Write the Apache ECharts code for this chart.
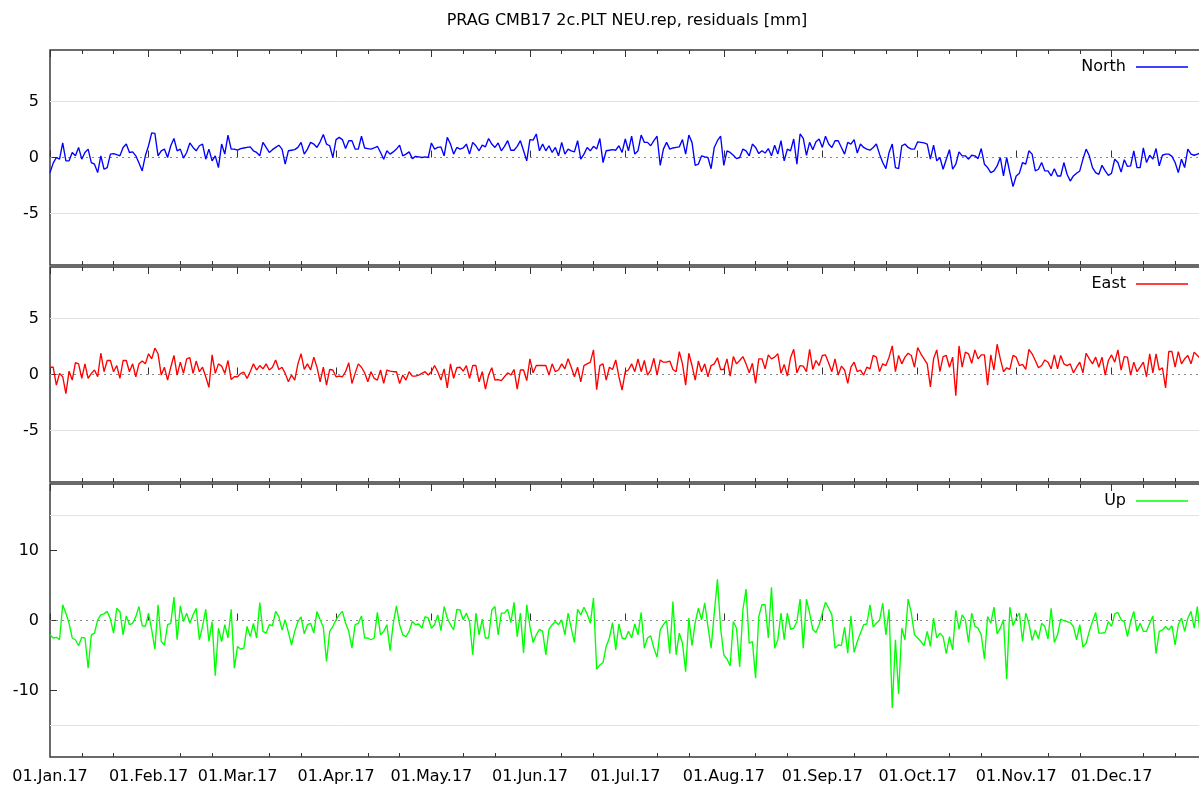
<!DOCTYPE html>
<html><head><meta charset="utf-8">
<script src="https://cdn.jsdelivr.net/npm/echarts@6/dist/echarts.min.js"></script>
<style>html,body{margin:0;padding:0;background:#fff}#c{width:1199px;height:786px}</style>
</head><body><div id="c"></div>
<script>
const titleText = 'PRAG CMB17 2c.PLT NEU.rep, residuals [mm]';
const seriesNames = ['North', 'East', 'Up'];
const seriesColors = ['#0000ff', '#ff0000', '#00ff00'];
const xTickLabels = ['01.Jan.17','01.Feb.17','01.Mar.17','01.Apr.17','01.May.17','01.Jun.17','01.Jul.17','01.Aug.17','01.Sep.17','01.Oct.17','01.Nov.17','01.Dec.17'];
const monthStartDays = [0,31,59,90,120,151,181,212,243,273,304,334];
const yTicksNE = [-5, 0, 5];
const yTicksUp = [-10, 0, 10];

// daily residuals [mm], day 0 = 01.Jan.17
const north = [
-1.35,-0.5,0,-0.15,1.3,-0.3,-0.3,0.45,0.15,0.9,
-0.15,0.45,0.75,-0.45,-0.6,-1.35,0.15,-1.05,-0.9,0.3,
0.35,0.25,0.15,0.9,1.2,0.45,0.5,0.15,-0.5,-1.2,
0.15,1.05,2.2,2.15,0.15,0.6,0.75,0,1.05,1.7,
0.6,0.75,-0.05,0.45,1.3,0.9,0.6,1.05,1.2,-0.15,
0.75,-0.3,0.15,-0.9,1.2,0.3,2.0,0.75,0.75,0.65,
0.8,0.85,0.9,0.95,0.6,0.45,0.15,1.35,0.9,0.45,
0.7,0.9,1.1,0.75,-0.6,0.6,0.65,0.7,0.9,1.35,
0.3,0.75,1.35,1.2,0.9,1.4,2.05,1.2,1.05,0,
1.6,1.8,1.6,0.8,1.5,1.5,0.75,0.75,1.9,0.85,
0.8,0.75,0.85,1.0,0.45,-0.15,0.6,0.3,0.5,0.75,
1.1,0.15,0.3,0.5,-0.1,0.1,0.05,0,0.05,0,
1.3,0.75,0.9,0.95,0.15,1.8,1.2,0.3,0.9,0.75,
0.85,1.2,0.3,1.35,1.05,0.6,1.1,0.95,1.7,1.2,
0.9,1.3,0.6,1.0,1.5,0.65,0.65,1.0,1.5,0.6,
-0.3,1.6,1.55,2.1,0.6,1.2,0.6,1.05,0.45,0.9,
0.15,1.35,0.3,0.75,0.6,0.5,1.5,-0.15,0.3,0.9,
0.6,1.0,0.75,1.7,-0.45,0.6,0.65,0.7,0.65,1.05,
0.45,1.65,0.6,1.9,0.3,0.6,2.0,1.35,1.35,1.05,
1.5,1.9,-0.7,0.75,1.35,0.75,0.85,0.9,0.95,1.6,
0.3,2.0,1.35,-0.7,-0.6,0.15,0.05,0,-1.0,0.9,
1.5,1.9,-0.7,0.6,0.45,0.2,-0.1,0,0.75,0.6,
0.15,1.2,0.9,0.35,0.6,0.4,0.8,0.15,1.1,0.3,
1.5,-0.3,0.75,0.6,1.65,-0.6,2.1,1.7,0.2,1.35,
0.7,1.4,1.65,0.9,1.9,1.2,0.9,1.5,1.5,0.9,
0.3,1.35,1.2,1.6,0.4,1.2,0.9,0.75,0.65,0.9,
1.2,0.3,-0.45,-1.0,0.45,1.2,-0.9,-1.0,1.05,1.2,
0.9,0.75,0.75,1.4,1.35,1.3,1.2,-0.15,1.1,-0.3,
0,-1.05,-0.15,0.7,-1.05,-0.6,0.5,0.15,0.15,-0.15,
0.2,0.15,-0.1,0.8,-0.6,-0.9,-1.35,-1.2,-0.75,0,
-1.65,0,-1.35,-2.6,-1.65,-1.4,-0.45,-0.6,0.6,0.3,
-1.2,-1.05,-0.45,-1.2,-1.2,-1.65,-1.0,-1.65,-1.65,-0.45,
-1.5,-2.1,-1.65,-1.4,-1.2,-0.15,0.75,0.15,-0.9,-1.35,
-1.5,-0.7,-1.2,-1.6,-1.4,-0.15,-0.45,-1.3,-0.2,-0.8,
-0.75,0.6,-0.9,-0.9,0.85,-0.45,0.2,-0.15,0.8,-0.75,
0.2,0.3,0.3,0.1,-0.45,-1.35,-0.15,-0.9,0.75,0.3,
0.2,0.3,0.4
];
const east = [
0.65,0.65,-0.95,0.1,-0.2,-1.7,0.3,-0.5,1.05,0.95,
-0.35,0.95,-0.35,0.1,0.4,-0.2,1.9,0.25,1.25,1.25,
0.25,0.8,-0.35,1.25,1.25,0.25,0.95,-0.2,0.95,1.2,
0.95,1.85,1.4,2.35,1.85,-0.05,0.65,-0.5,0.65,1.7,
-0.05,1.1,0.1,1.4,1.5,0.1,1.2,0.25,0.65,-0.2,
-1.15,1.75,0.1,0.95,0.75,0.1,1.25,-0.45,-0.2,-0.2,
0.1,0.2,-0.35,0.25,0.95,0.4,0.8,0.5,0.95,0.4,
0.65,1.3,0.45,0.65,0.1,-0.65,-0.05,-0.5,0.95,1.85,
0.45,0.95,0.4,1.55,0.65,-0.65,0.65,-0.95,0.45,0.4,
-0.2,-0.15,-0.2,0.25,1.05,-0.8,0.1,0.95,0.65,0.15,
-0.65,0.25,-0.35,-0.5,0.4,-0.8,0.4,0.3,0.25,0.25,
-0.8,-0.05,-0.5,0.25,-0.15,-0.15,-0.05,0.1,0.25,-0.05,
0.25,0.8,0.25,-0.5,0.5,-1.2,0.95,-0.35,0.6,0.65,
0.3,0.8,-0.35,0.8,0.8,-0.65,0.25,-1.3,-0.05,0.6,
-0.5,-0.45,-0.55,-0.2,0.15,-0.05,0.45,-1.3,0.4,0.4,
-0.55,1.4,0.15,0.8,0.8,0.8,0.8,-0.05,0.95,0.25,
0.4,0.95,0.5,1.4,0.65,-0.2,0.65,-0.65,0.8,0.95,
1.1,2.2,-1.35,0.8,0.95,-0.5,0.65,0.45,1.3,-0.2,
-1.4,0.25,0.4,0.95,0.25,1.4,0.25,1.25,-0.05,0.4,
1.45,-0.05,1.3,1.1,1.1,1.2,0.45,0.25,2.05,0.95,
-0.95,1.9,0.8,-0.5,1.2,0.25,0.95,-0.2,0.8,0.95,
1.5,0.45,0.45,1.4,-0.15,1.6,0.95,1.25,1.6,0.95,
0.15,1.0,-0.8,1.4,1.4,0.5,1.75,1.4,1.55,1.85,
0.1,0.9,-0.15,1.5,2.25,0.15,0.8,0.75,0.25,2.25,
0.45,1.25,0.8,1.7,1.75,1.0,0.25,1.4,-0.05,0.75,
0.4,-0.8,0.65,1.1,0.25,0.4,-0.05,0.65,0.5,1.7,
1.55,0.25,0.95,0.8,1.55,2.55,0.25,1.7,0.95,1.55,
1.9,1.7,0.65,2.4,1.85,1.4,0.95,-1.1,1.4,2.2,
0.25,1.6,1.7,0.65,1.55,-1.9,2.55,0.65,2.0,1.85,
1.0,2.2,1.4,1.75,1.75,-0.95,1.75,0.4,2.7,1.4,
0.25,0.6,0.45,1.7,1.55,0.8,0.9,0.45,2.25,1.85,
1.25,0.6,0.8,1.3,1.1,0.5,1.75,0.5,1.7,0.95,
0.8,0.95,0.15,0.65,1.1,0.15,1.9,1.4,0.95,1.55,
0.65,1.55,-0.05,1.25,1.75,1.1,2.2,0.4,1.6,1.55,
-0.05,1.1,0.25,0.65,1.1,-0.2,1.85,0.15,1.85,0.4,
0.6,-1.2,2.05,2.05,0.65,2.05,0.95,1.4,1.7,0.95,
2.0,1.7,1.4
];
const up = [
-2.05,-2.5,-2.4,-2.75,2.25,1.05,-0.4,-2.5,-2.75,-3.6,
-2.4,-2.5,-6.8,-2.05,-1.8,0.1,0.8,0.95,1.3,0.2,
-1.8,1.75,1.3,-2.05,0.65,-0.6,-0.4,0.55,2.0,-0.75,
-0.85,1.05,-1.35,-4.1,2.25,-3.0,-3.5,-0.6,-0.4,3.35,
-2.75,2.1,-0.15,1.05,-0.4,0.8,1.75,-2.75,-0.85,1.6,
-3.0,-0.15,-7.9,-1.1,-3.0,-0.6,-2.5,1.6,-6.8,-3.7,
-4.1,-3.95,-0.85,-2.3,-0.4,-2.5,2.55,-1.55,-1.8,-0.6,
-0.75,1.3,0.55,-1.35,0.1,-1.7,-3.5,-1.55,-0.15,0.5,
-1.9,-0.6,-0.4,-1.8,1.3,0.1,-0.95,-5.85,-1.55,-0.85,
0.1,0.8,1.3,-0.4,-1.55,-3.95,-0.6,-0.4,0.65,-2.5,
-2.5,-2.75,-2.5,1.15,-2.05,-1.55,-0.6,-4.3,-0.4,2.1,
-0.6,-2.05,-2.3,-1.55,-0.15,-0.6,-0.5,-1.1,0.55,0.35,
-1.1,-0.6,0.8,-1.45,2.0,0.35,-0.6,-1.35,1.6,1.5,
0.1,1.05,-0.15,-4.9,1.05,-2.05,0.2,-2.5,-2.5,1.5,
2.0,-2.05,1.05,1.05,1.6,-0.3,2.6,-2.3,1.05,-4.65,
2.25,-0.85,-3.15,-2.05,-1.25,-1.55,-4.9,-1.25,-0.6,-0.15,
-0.6,0.1,-2.05,1.05,-1.1,-3.15,1.6,0.8,1.9,0.95,
-0.4,3.2,-6.95,-6.35,-6.0,-3.7,-2.5,-0.3,-4.2,-0.5,
-2.5,-2.65,-1.55,-2.5,-0.5,-2.05,1.15,-3.95,-2.5,-2.2,
-3.95,-5.25,-1.35,-0.6,0,-4.75,2.7,-4.9,-1.8,-3.25,
-7.3,0.35,-3.6,-0.3,1.75,0.1,2.5,-0.85,-3.95,1.05,
5.9,-1.1,-4.9,-5.5,-6.5,-0.15,-1.1,-6.65,1.5,4.5,
-3.25,-3.0,-8.25,0.55,2.25,2.25,-2.5,4.75,-3.95,-2.75,
1.05,-2.75,1.05,-1.25,-1.1,-0.15,3.05,-3.95,3.05,1.05,
-1.3,-1.7,-0.6,1.05,2.6,1.75,0.8,-3.95,-3.5,-3.6,
-0.95,-4.65,0.65,-4.55,-3.0,-1.8,-0.6,-0.5,2.25,-0.95,
-0.4,0,2.5,-2.05,1.6,-12.5,-2.75,-10.5,-1.1,-2.75,
3.05,1.05,-2.05,-2.5,-3.0,-3.6,-1.55,-3.7,0.35,-2.5,
-1.8,-2.3,-4.75,-2.3,-4.2,1.45,-1.25,0.8,0.1,-3.15,
1.05,-0.85,-1.1,-2.05,-5.5,0.55,-0.4,1.9,-1.9,-1.1,
0.1,-8.4,1.9,-0.75,0.35,1.05,-3.0,1.05,-0.4,-2.85,
-1.35,-2.65,-0.4,-0.85,-2.65,1.75,-3.15,-2.05,0.2,0,
-0.15,-0.3,-0.85,-2.75,-0.6,-3.8,-3.25,-1.55,-0.15,1.15,
-1.8,-1.8,-1.7,-0.15,-0.85,0.95,1.15,0.1,-0.15,-2.3,
-0.15,1.3,-1.55,-0.4,-1.55,-1.55,-0.4,0.65,-4.75,-1.55,
-1.35,-0.85,-1.35,-0.75,-3.5,-0.6,0.35,-1.55,0.35,1.3,
-1.1,2.0,-2.75
];

const FONT = 'DejaVu Sans';
const XMAX = 363.4;
const minorDays = monthStartDays.flatMap(m => [m + 10, m + 20]);
const panels = [
  { data: north, yMin: -9.6, yMax: 9.6, yTicks: yTicksNE, grid: 5, top: 50, height: 215 },
  { data: east, yMin: -9.6, yMax: 9.6, yTicks: yTicksNE, grid: 5, top: 267, height: 215 },
  { data: up, yMin: -19.5, yMax: 19.5, yTicks: yTicksUp, grid: 15, top: 484, height: 273 }
];
const tickColor = '#333';

const grids = [], xAxes = [], yAxes = [], series = [], legends = [];
panels.forEach((p, g) => {
  grids.push({ left: 50, right: -6, top: p.top, height: p.height, show: true,
    borderColor: '#3a3a3a', borderWidth: 1.5, backgroundColor: 'transparent', outerBoundsMode: 'none' });
  const mk = (position, ticks, len, showLabel) => ({
    type: 'value', gridIndex: g, min: 0, max: XMAX, position: position,
    axisLine: { show: false }, splitLine: { show: false },
    axisTick: { show: true, inside: true, length: len, customValues: ticks, lineStyle: { color: tickColor, width: 1 } },
    axisLabel: showLabel ? {
      show: true, customValues: monthStartDays, margin: 12, color: '#000', fontSize: 16, fontFamily: FONT,
      formatter: v => { const k = monthStartDays.indexOf(Math.round(v)); return k >= 0 ? xTickLabels[k] : ''; }
    } : { show: false, customValues: ticks }
  });
  xAxes.push(mk('bottom', monthStartDays, 7, g === 2));
  xAxes.push(mk('bottom', minorDays, 4, false));
  xAxes.push(mk('top', monthStartDays, 7, false));
  xAxes.push(mk('top', minorDays, 4, false));
  yAxes.push({
    type: 'value', gridIndex: g, min: p.yMin, max: p.yMax, position: 'left',
    axisLine: { show: false }, splitLine: { show: false },
    axisTick: { show: true, inside: true, length: 7, customValues: p.yTicks, lineStyle: { color: tickColor, width: 1 } },
    axisLabel: { show: true, customValues: p.yTicks, margin: 11, color: '#000', fontSize: 16, fontFamily: FONT }
  });
  series.push({
    type: 'line', name: seriesNames[g], xAxisIndex: 4 * g, yAxisIndex: g,
    data: p.data.map((v, i) => [i, v]),
    showSymbol: false, symbol: 'none', clip: true,
    lineStyle: { color: seriesColors[g], width: 1.35 }, itemStyle: { color: seriesColors[g] },
    z: 3,
    markLine: {
      silent: true, symbol: ['none', 'none'], label: { show: false }, animation: false, z: 1,
      data: [
        { yAxis: p.grid, lineStyle: { color: '#e2e2e2', type: 'solid', width: 1 } },
        { yAxis: -p.grid, lineStyle: { color: '#e2e2e2', type: 'solid', width: 1 } },
        { yAxis: 0, lineStyle: { color: '#888', type: [2, 4], width: 1 } }
      ]
    }
  });
  legends.push({
    data: [seriesNames[g]], right: 11, top: p.top + 9, padding: 0, orient: 'horizontal',
    icon: 'rect', itemWidth: 52, itemHeight: 1.5, align: 'right', selectedMode: false,
    textStyle: { fontSize: 16, fontFamily: FONT, color: '#000', padding: [0, 5, 0, 0] }
  });
});

const chart = echarts.init(document.getElementById('c'), null, { renderer: 'canvas' });
chart.setOption({
  animation: false,
  backgroundColor: '#fff',
  title: { text: titleText, left: 627, top: 13, textAlign: 'center', padding: 0,
    textStyle: { fontSize: 16, fontWeight: 'normal', color: '#000', fontFamily: FONT } },
  legend: legends,
  grid: grids,
  xAxis: xAxes,
  yAxis: yAxes,
  series: series
});
</script>
</body></html>
